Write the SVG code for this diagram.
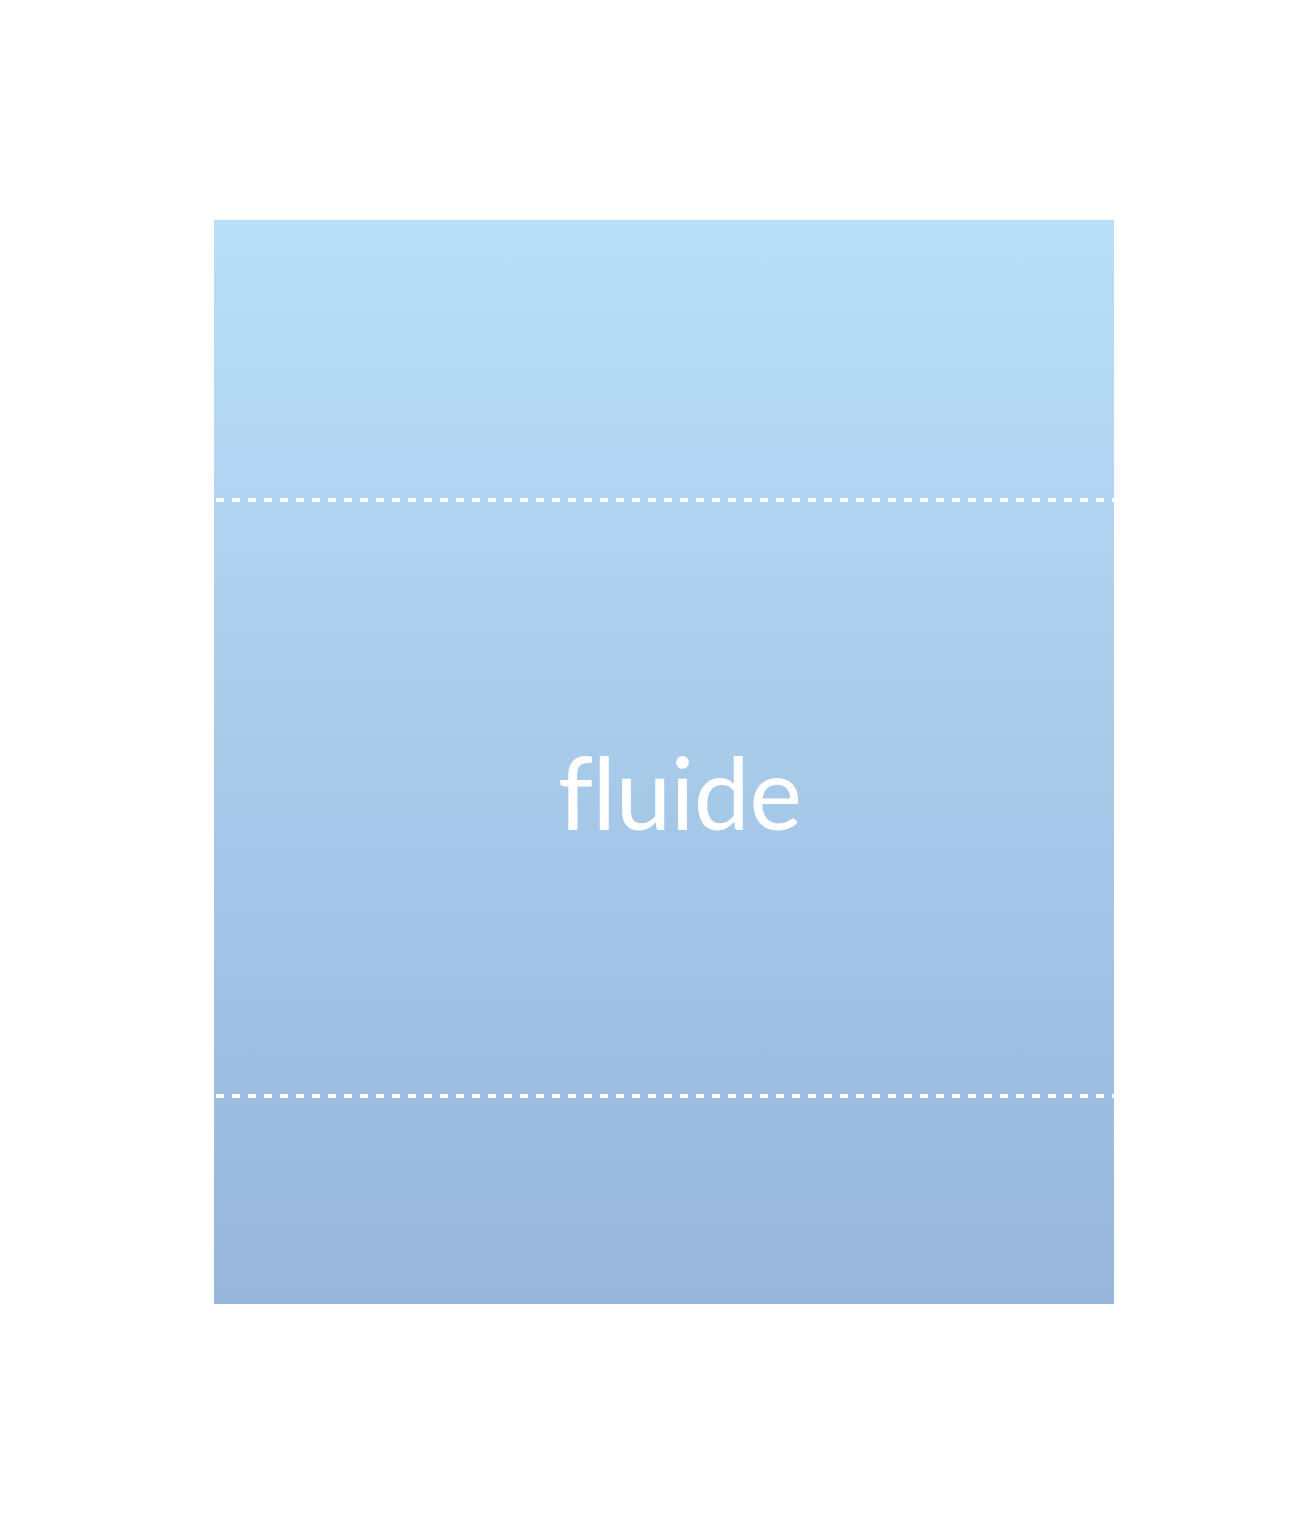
<svg xmlns="http://www.w3.org/2000/svg" width="1302" height="1540" viewBox="0 0 1302 1540">
<defs>
<linearGradient id="g" x1="0" y1="0" x2="0" y2="1">
<stop offset="0" stop-color="#b9dffa"/>
<stop offset="1" stop-color="#97b6da"/>
</linearGradient>
<style>
.dash{stroke:#ffffff;stroke-width:4;stroke-dasharray:8 8;fill:none}
.lbl{font-family:Lato,"Noto Sans",sans-serif;font-weight:400;font-size:100px;fill:#ffffff;font-variant-ligatures:none}
</style>
</defs>
<rect width="1302" height="1540" fill="#ffffff"/>
<g id="fluid">
<rect x="214" y="220" width="900" height="1084" fill="url(#g)"/>
<line class="dash" x1="216" y1="500" x2="1114" y2="500"/>
<line class="dash" x1="216" y1="1096" x2="1114" y2="1096"/>
<text class="lbl" x="558" y="830" textLength="244" lengthAdjust="spacing">fluide</text>
</g>
</svg>
